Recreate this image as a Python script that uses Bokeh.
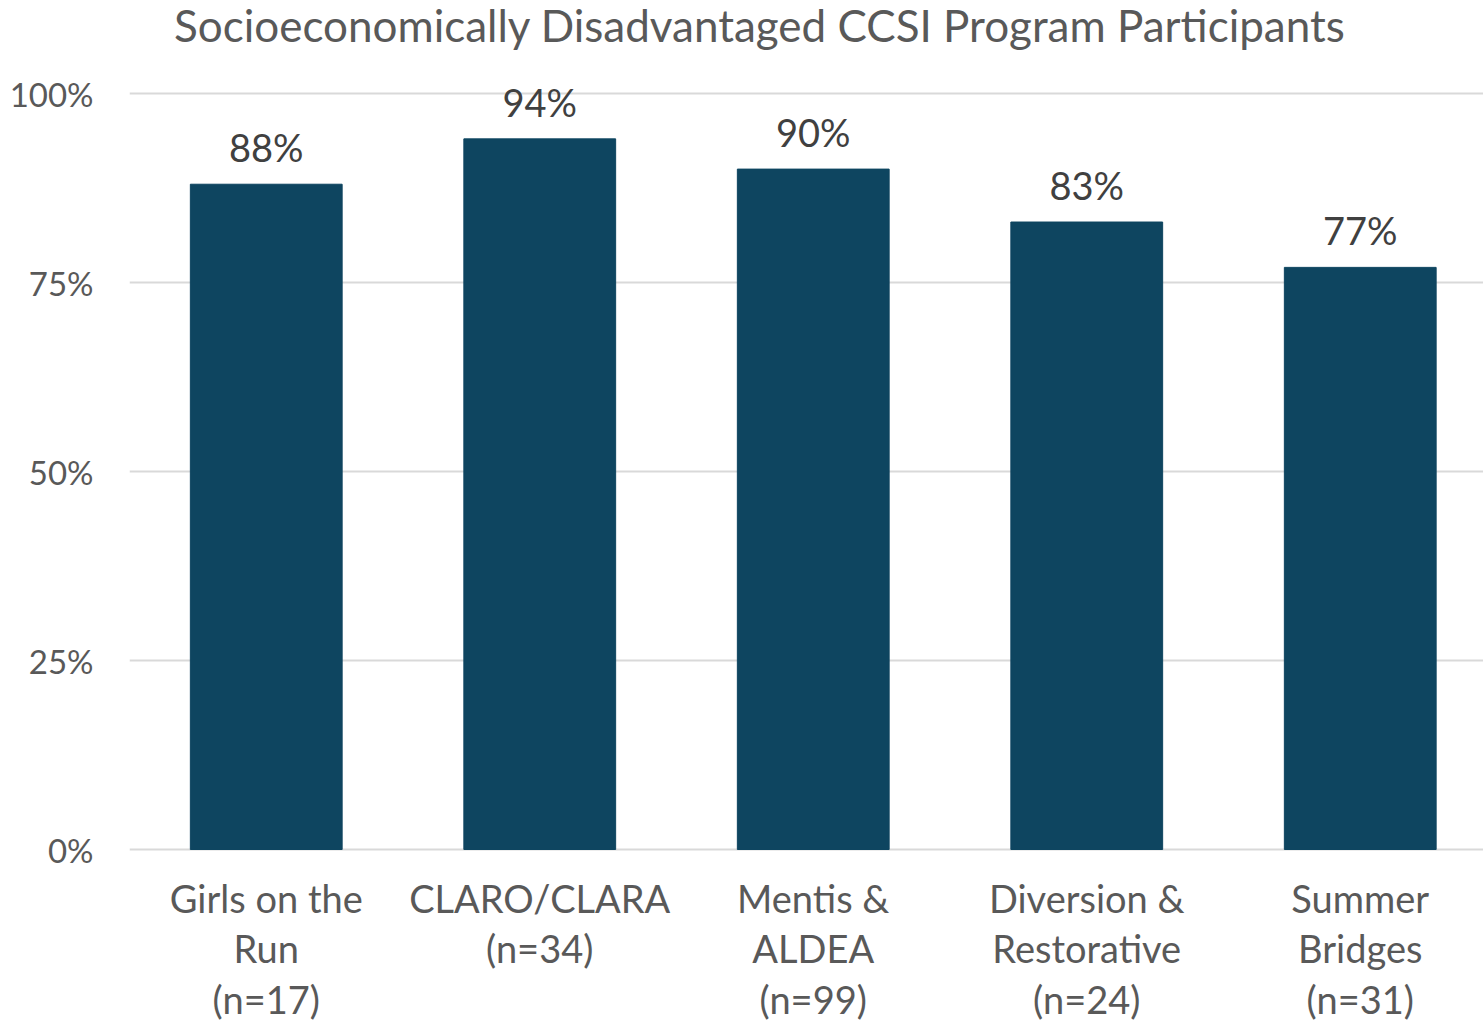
from bokeh.plotting import figure
from bokeh.models import Range1d, FixedTicker, ColumnDataSource, LabelSet, Label
from bokeh.core.properties import value
from bokeh.embed import file_html
from bokeh.resources import INLINE

# ---- data ----
categories = ["Girls on the\nRun\n(n=17)", "CLARO/CLARA\n(n=34)", "Mentis &\nALDEA\n(n=99)",
              "Diversion &\nRestorative\n(n=24)", "Summer\nBridges\n(n=31)"]
values = [0.88, 0.94, 0.90, 0.83, 0.77]
value_labels = ["88%", "94%", "90%", "83%", "77%"]
y_ticks = [0, 0.25, 0.5, 0.75, 1.0]
y_tick_labels = ["0%", "25%", "50%", "75%", "100%"]
title_text = "Socioeconomically Disadvantaged CCSI Program Participants"

FONT = "Lato"
BAR = "#0E4560"

W, H = 1483, 1028
left = 129
px_per_cat = 273.5
px_per_unit = 756.0
zero_px = 849  # distance of 0% from top of canvas
y_end = zero_px / px_per_unit
y_start = -(H - zero_px) / px_per_unit

p = figure(width=W, height=H, output_backend="svg", toolbar_location=None,
           x_range=Range1d(-0.5, -0.5 + (W - left) / px_per_cat), y_range=Range1d(y_start, y_end),
           min_border_left=left, min_border_right=0, min_border_top=0, min_border_bottom=0)
p.outline_line_color = None
p.background_fill_color = "white"
p.border_fill_color = "white"

xs = list(range(len(categories)))
src = ColumnDataSource(dict(x=xs, top=values, lab=value_labels, cat=categories))
p.vbar(x="x", top="top", width=0.555, bottom=0, source=src, fill_color=BAR, line_color=BAR)

labels = LabelSet(x="x", y="top", text="lab", source=src, text_align="center",
                  text_baseline="alphabetic", y_offset=22, text_font=value(FONT),
                  text_font_size=value("38px"), text_color=value("#404040"))
p.add_layout(labels)

# category labels under the baseline
p.text(x="x", y=0, text="cat", source=src, text_align="center", text_baseline="top",
       y_offset=25, text_font=value(FONT), text_font_size=value("38px"),
       text_color="#595959", text_line_height=1.1)

# x axis hidden (labels drawn as text under the bars)
p.xaxis.visible = False

# y axis
p.yaxis.ticker = FixedTicker(ticks=y_ticks)
p.yaxis.major_label_overrides = {t: l for t, l in zip(y_ticks, y_tick_labels)}
p.yaxis.major_label_text_font = FONT
p.yaxis.major_label_text_font_size = "33px"
p.yaxis.major_label_text_color = "#595959"
p.yaxis.major_label_standoff = 30
p.yaxis.major_tick_line_color = None
p.yaxis.minor_tick_line_color = None
p.yaxis.axis_line_color = None

p.xgrid.grid_line_color = None
p.ygrid.ticker = FixedTicker(ticks=y_ticks)
p.ygrid.grid_line_color = "#D9D9D9"
p.ygrid.grid_line_width = 2

title = Label(x=1.805, y=y_end, y_offset=2, text=title_text, text_align="center",
              text_baseline="top", text_font=FONT, text_font_size="44px", text_color="#595959")
p.add_layout(title)

open("out.html", "w").write(file_html(p, INLINE))
